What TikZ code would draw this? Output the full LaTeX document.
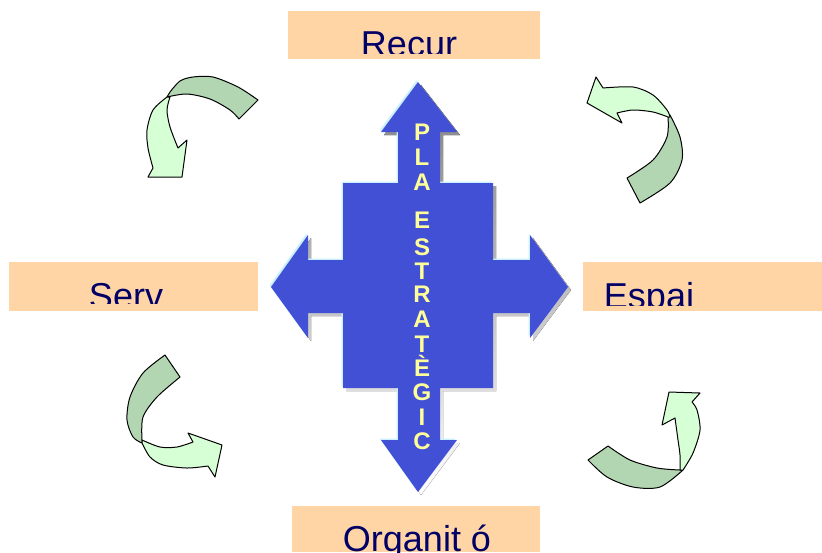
\documentclass[tikz,border=0pt]{standalone}
\usepackage{fontspec}
\setmainfont{Liberation Sans}
\usetikzlibrary{calc}
\definecolor{peach}{RGB}{255,213,165}
\definecolor{navy}{RGB}{0,0,102}
\definecolor{crossblue}{RGB}{66,80,214}
\definecolor{rim}{RGB}{200,240,255}
\definecolor{shade}{RGB}{150,150,150}
\definecolor{darkgreen}{RGB}{178,214,178}
\definecolor{lightgreen}{RGB}{214,255,214}
\definecolor{lettery}{RGB}{255,255,153}

\tikzset{
  labelbox/.style={fill=peach},
  lbl/.style={text=navy, font=\fontsize{18}{18}\selectfont, inner sep=0pt, anchor=base},
  ltr/.style={text=lettery, font=\bfseries\fontsize{12}{12}\selectfont, inner sep=0pt},
  darkband/.style={fill=darkgreen, draw=black, line width=0.5pt, line join=round},
  lightband/.style={fill=lightgreen, draw=black, line width=0.5pt, line join=round}
}

\begin{document}
\begin{tikzpicture}[x=0.5pt,y=-0.5pt]
  \useasboundingbox (0,0) rectangle (822,552);
  % boxes, text cut at the bottom
  \foreach \nm/\xa/\ya/\xb/\yb/\yc/\tx/\ty/\txt in {
      recur/288/11/540/59/53/409/56/Recur,
      serv/9/262/258/311/303/126/308/Serv,
      espai/583/262/822/311/305/649/308/Espai,
      organit/292/506/540/552/552/417/551/Organit ó}{
    \fill[labelbox] (\xa,\ya) rectangle (\xb,\yb);
    \begin{scope}
      \clip (\xa,\ya) rectangle (\xb,\yc);
      \node[lbl] (\nm) at (\tx,\ty) {\txt};
    \end{scope}
  }
  % cross: shadow, rim, body
  \foreach \dx/\dy/\col in {3/3/shade, -1.5/-1.5/rim, 0/0/crossblue}
    \fill[\col, shift={(\dx,\dy)}] (418,82) -- (457,132) -- (440,132) -- (440,183)
      -- (493,183) -- (493,260) -- (530,260) -- (530,235) -- (568,287)
      -- (530,338) -- (530,313) -- (493,313) -- (493,388) -- (440,388)
      -- (440,440) -- (457,440) -- (418,492) -- (381,440) -- (398,440)
      -- (398,388) -- (343,388) -- (343,313) -- (308,313) -- (308,338)
      -- (271,287) -- (308,235) -- (308,260) -- (343,260) -- (343,183)
      -- (398,183) -- (398,132) -- (381,132) -- cycle;
  \foreach \ch/\yy [count=\i] in {P/132, L/157, A/182, E/220, S/247, T/271,
      R/294, A/319, T/344, È/366, G/392, I/417, C/441}
    \node[ltr] (ltr\i) at (422,\yy) {\ch};
  % top left
  \filldraw[darkband] plot[smooth] coordinates {(258,100) (238,87) (213,77) (193,77) (180,81) (170,92)}
    -- plot[smooth] coordinates {(167,97) (187,94) (210,99) (230,110) (239,119)} -- cycle;
  \filldraw[lightband] plot[smooth] coordinates {(167,97) (153,110) (147,130) (148,148) (153,168)}
    -- (148,177) -- (182,177) -- (187,140) -- (178,148)
    -- plot[smooth] coordinates {(178,148) (170,127) (167,110) (170,97)} -- cycle;
  % top right
  \filldraw[darkband] plot[smooth] coordinates {(670,115) (680,137) (682,160) (670,183) (640,203)}
    -- (627,178) -- plot[smooth] coordinates {(627,178) (653,160) (667,137) (668,117)} -- cycle;
  \filldraw[lightband] (596,77) -- (603,88)
    -- plot[smooth] coordinates {(603,88) (633,87) (653,95) (667,110) (670,117)}
    -- plot[smooth] coordinates {(668,117) (653,112) (633,110) (617,113)}
    -- (622,123) -- (587,103) -- cycle;
  % bottom left
  \filldraw[darkband] plot[smooth] coordinates {(165,355) (143,373) (130,397) (127,420) (133,437) (142,443)}
    -- plot[smooth] coordinates {(142,440) (143,417) (157,397) (180,377)} -- cycle;
  \filldraw[lightband] plot[smooth] coordinates {(142,443) (150,457) (163,465) (187,468) (208,466)}
    -- (215,477) -- (222,445) -- (188,433) -- (193,442)
    -- plot[smooth] coordinates {(193,442) (177,447) (160,447) (142,440)} -- cycle;
  % bottom right
  \filldraw[darkband] plot[smooth] coordinates {(588,460) (607,477) (633,487) (660,487) (683,470)}
    -- plot[smooth] coordinates {(680,470) (657,468) (630,460) (608,446)} -- cycle;
  \filldraw[lightband] plot[smooth] coordinates {(683,470) (693,453) (700,430) (697,410) (692,402)}
    -- (700,393) -- (669,392) -- (662,425) -- (675,418)
    -- plot[smooth] coordinates {(675,418) (678,440) (680,455) (680,470)} -- cycle;
\end{tikzpicture}
\end{document}
